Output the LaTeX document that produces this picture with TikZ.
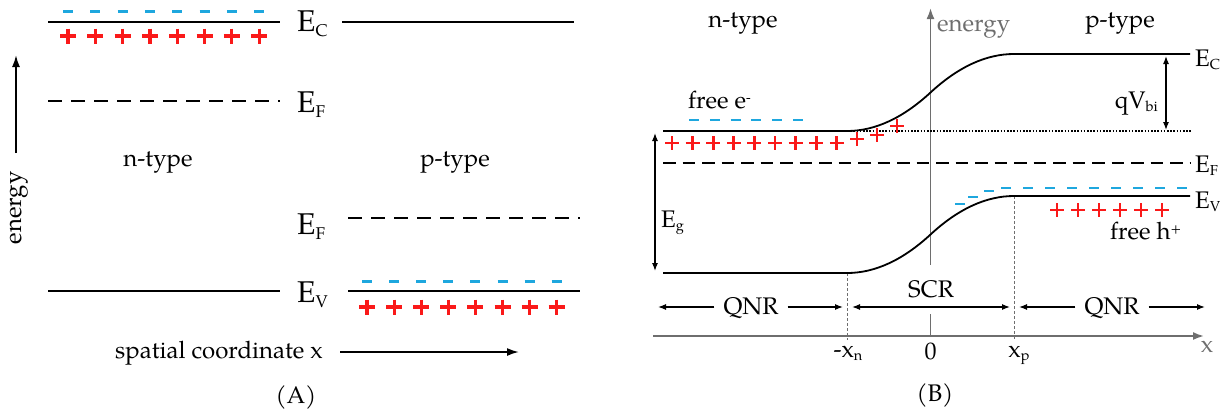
\documentclass[tikz,border=0pt]{standalone}
\usepackage{fontspec}
\setmainfont{texgyrepagella-regular.otf}
\usetikzlibrary{arrows.meta}

\definecolor{axisgray}{RGB}{110,110,110}
\definecolor{eblue}{RGB}{30,167,222}
\definecolor{hred}{RGB}{250,25,25}

% lowered / raised small text for band labels and charges
\newcommand\subA[1]{\raisebox{-5pt}{\fontsize{17}{17}\selectfont #1}}
\newcommand\subB[1]{\raisebox{-3.5pt}{\fontsize{14.5}{14.5}\selectfont #1}}
\newcommand\supB[1]{\raisebox{6pt}{\fontsize{14}{14}\selectfont #1}}

\tikzset{
  band/.style={line width=1.8pt},
  fermiA/.style={line width=1.8pt, dash pattern=on 13.5pt off 9.5pt},
  fermiB/.style={line width=1.8pt, dash pattern=on 12.5pt off 7pt},
  refline/.style={line width=1.3pt, dash pattern=on 1.6pt off 1.6pt},
  axisline/.style={axisgray, line width=1.8pt, -{Latex[length=11pt,width=8pt]}},
  tickline/.style={axisgray, line width=1pt, dash pattern=on 3pt off 2pt},
  dimline/.style={line width=1.2pt},
  lab/.style={inner sep=0pt},
  bigE/.style={inner sep=0pt, anchor=base west, font=\fontsize{30}{34}\selectfont},
  smallE/.style={inner sep=0pt, anchor=base west},
  pics/holeA/.style={code={\draw[hred, line width=3.2pt] (-8,0) -- (8,0) (0,-7.5) -- (0,7.5);}},
  pics/elecA/.style={code={\draw[eblue, line width=3pt] (-5,0) -- (5,0);}},
  pics/holeB/.style={code={\draw[hred, line width=2.8pt] (-7,0) -- (7,0) (0,-7) -- (0,7);}},
  pics/elecB/.style={code={\draw[eblue, line width=2.8pt] (-5,0) -- (5,0);}},
}

\begin{document}
\begin{tikzpicture}[x=1pt, y=-1pt, font=\fontsize{24}{28}\selectfont,
  tip/.tip={Latex[length=8pt,width=6pt]}]
\useasboundingbox (0,0) rectangle (1228,416);

% ---------------- (A) separated n- and p-type material ----------------
\draw[band] (48,22) -- (280,22);
\draw[band] (342,22) -- (574,22);
\draw[fermiA] (48,101) -- (280,101);
\draw[fermiA] (348,218) -- (580,218);
\draw[band] (48,291) -- (280,291);
\draw[band] (348,291) -- (580,291);

\foreach \k in {0,...,7} {
  \pic at ({68+27.3*\k},11) {elecA};
  \pic at ({68+27.3*\k},36) {holeA};
  \pic at ({367+27.1*\k},281) {elecA};
  \pic at ({367+27.1*\k},307) {holeA};
}

\node[bigE] (ecA) at (297,31) {E\subA{C}};
\node[bigE] (efnA) at (297,112) {E\subA{F}};
\node[bigE] (efpA) at (297,234) {E\subA{F}};
\node[bigE] (evA) at (297,302) {E\subA{V}};

\node[lab] (ntA) at (158,162) {n-type};
\node[lab] (ptA) at (455,162) {p-type};

\node[lab, rotate=90] (enA) at (19,208) {energy};
\coordinate (enAfoot) at (16,153);
\coordinate (enAtip) at (16,55);
\draw[line width=1.8pt, -{Latex[length=12pt,width=8pt]}] (enAfoot) -- (enAtip);

\node[lab] (spA) at (219,353) {spatial coordinate x};
\coordinate (spAtip) at (519,352);
\draw[line width=1.8pt, -{Latex[length=12pt,width=8pt]}] (340,352) -- (spAtip);

\node[lab] (capA) at (296,397) {(A)};

% ---------------- (B) junction in equilibrium ----------------
\coordinate (axb) at (930.5,337);
\coordinate (axt) at (930.5,8);
\draw[axisline] (axb) -- (axt);
\coordinate (xax0) at (653,336);
\coordinate (xax1) at (1204,336);
\draw[axisline] (xax0) -- (xax1);

\node[lab, anchor=west, text=axisgray] (enB) at (937,29) {energy};
\node[lab, text=axisgray] (xlab) at (1207,347) {x};

% depletion edges
\draw[tickline] (847,273) -- (847,340);
\draw[tickline] (1014,196) -- (1014,340);

% reference levels
\draw[refline] (847,131) -- (1192,131);
\draw[fermiB] (663,163) -- (1190,163);

% conduction and valence band edges
\draw[band] (663,131) -- (847,131)
  .. controls (874.8,131) and (902.7,118.2) .. (930.5,92.5)
  .. controls (958.3,66.8) and (986.2,54) .. (1014,54) -- (1190,54);
\draw[band] (663,273) -- (847,273)
  .. controls (874.8,273) and (902.7,260.2) .. (930.5,234.5)
  .. controls (958.3,208.8) and (986.2,196) .. (1014,196) -- (1190,196);

% free carriers
\foreach \k in {0,...,5} \pic at ({694+20.8*\k},120) {elecB};
\foreach \k in {0,...,8} \pic at ({672+20.6*\k},143) {holeB};
\foreach \p in {(857,139),(877,135),(897,126)} \pic at \p {holeB};
\foreach \p in {(960,204),(973,197),(989,191)} \pic at \p {elecB};
\foreach \k in {0,...,8} \pic at ({1006+22*\k},188) {elecB};
\foreach \k in {0,...,5} \pic at ({1057+21*\k},210) {holeB};

\node[smallE] (ecB) at (1195,66) {E\subB{C}};
\node[smallE] (efB) at (1195,172) {E\subB{F}};
\node[smallE] (evB) at (1195,208) {E\subB{V}};

\node[lab] (ntB) at (743,23) {n-type};
\node[lab] (ptB) at (1120,23) {p-type};
\node[lab, anchor=base west] (freeE) at (688,108) {free e\supB{-}};
\node[lab, anchor=base west] (freeH) at (1110,239) {free h\supB{+}};

% band gap and built-in potential
\coordinate (egTop) at (655,133);
\coordinate (egBot) at (655,271);
\draw[dimline, tip-tip] (egTop) -- (egBot);
\node[smallE] (egLab) at (661,227) {E\subB{g}};
\coordinate (vbTop) at (1166,56);
\coordinate (vbBot) at (1166,130);
\draw[dimline, tip-tip] (vbTop) -- (vbBot);
\node[lab, anchor=base east] (qvLab) at (1158,108) {qV\subB{bi}};

% axis ticks
\node[lab, anchor=base] (tn) at (848,357) {-x\subB{n}};
\node[lab, anchor=base] (t0) at (930.5,359) {0};
\node[lab, anchor=base] (tp) at (1019,357) {x\subB{p}};

% regions
\node[lab, fill=white, minimum height=49pt, inner xsep=4pt] (scr) at (931,289.5) {SCR};
\coordinate (sc1) at (852,307);
\coordinate (sc2) at (1010,307);
\draw[dimline, tip-tip] (sc1) -- (sc2);

\node[lab, fill=white, inner xsep=9pt, inner ysep=3pt] (qnrL) at (751,308) {QNR};
\coordinate (qL1) at (658,307);
\coordinate (qL2) at (843,307);
\draw[dimline, -tip] (qnrL.west |- qL1) -- (qL1);
\draw[dimline, -tip] (qnrL.east |- qL2) -- (qL2);

\node[lab, fill=white, inner xsep=9pt, inner ysep=3pt] (qnrR) at (1112,308) {QNR};
\coordinate (qR1) at (1019,307);
\coordinate (qR2) at (1205,307);
\draw[dimline, -tip] (qnrR.west |- qR1) -- (qR1);
\draw[dimline, -tip] (qnrR.east |- qR2) -- (qR2);

\node[lab] (capB) at (935,395) {(B)};
\end{tikzpicture}
\end{document}
